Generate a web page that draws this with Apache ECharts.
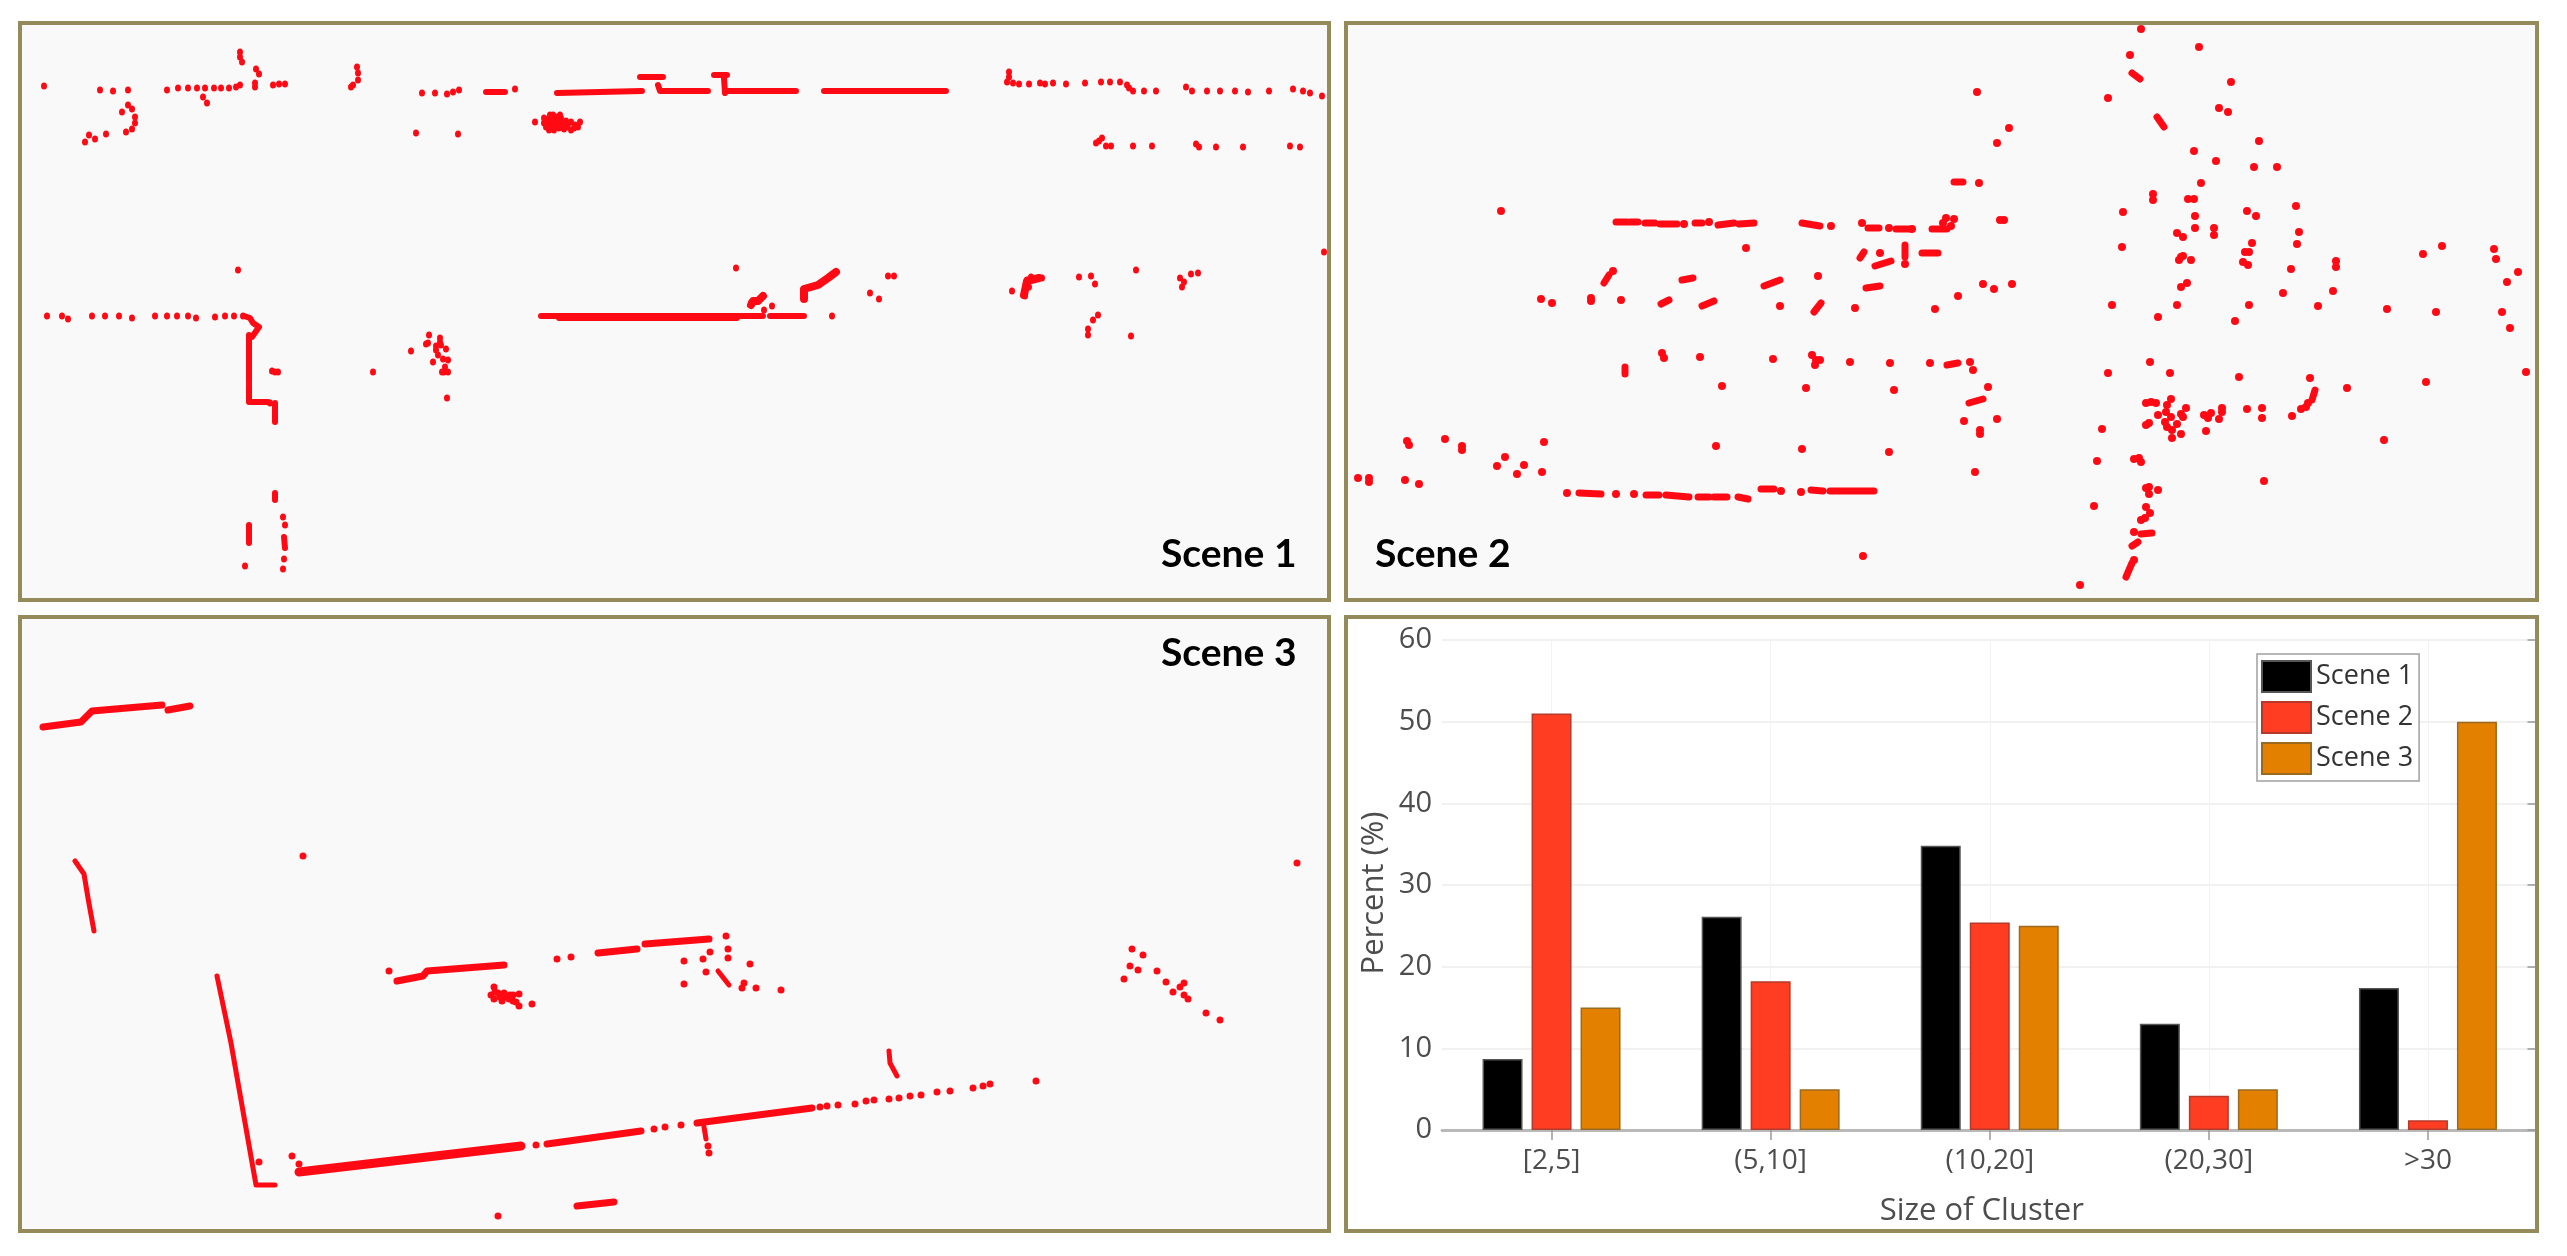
<!DOCTYPE html>
<html><head><meta charset="utf-8">
<style>html,body{margin:0;padding:0;background:#fff}#c{width:2567px;height:1256px}</style>
<script src="https://cdn.jsdelivr.net/npm/echarts@6/dist/echarts.min.js"></script>
</head><body><div id="c"></div>
<script>
// ---- Bar chart values
const categories = ['[2,5]','(5,10]','(10,20]','(20,30]','>30'];
const barScene1 = [8.7, 26.1, 34.8, 13, 17.4];
const barScene2 = [51, 18.2, 25.4, 4.2, 1.2];
const barScene3 = [15, 5, 25, 5, 50];
const percentTicks = {min:0,max:60,interval:10};

// ---- Scene 1 returns (x, y in the scan's own units, y down)
const scene1Points = [[24,63],[80,67],[93,68],[108,67],[147,67],[158,65],[168,65],[177,65],[185,65],[194,65],[201,65],[209,65],[216,64],[220,62],[235,64],[235,60],[253,62],[259,61],[265,61],[220,29],[220,34],[222,39],[236,46],[239,51],[183,74],[187,80],[108,82],[112,86],[102,89],[115,94],[115,100],[112,106],[106,109],[86,111],[75,116],[69,112],[65,119],[337,44],[338,50],[338,57],[333,62],[331,64],[402,70],[415,70],[427,71],[433,69],[439,67],[495,66],[396,110],[438,111],
[515,99],[524,95],[533,92],[541,95],[524,100],[531,99],[537,99],[543,100],[551,99],[560,99],[529,107],[539,105],[551,107],[558,104],[547,104],[535,102],[528,96],[537,94],[546,98],[555,102],[526,104],[534,107],[530,92],[540,92],[528,101],[533,96],[541,101],[548,101],[554,105],[544,106],[530,103],[536,97],
[989,49],[989,54],[987,59],[993,60],[999,61],[1009,61],[1020,60],[1025,61],[1033,60],[1046,61],[1065,60],[1081,59],[1090,59],[1100,59],[1107,62],[1109,65],[1113,68],[1124,68],[1136,68],[1166,64],[1172,68],[1187,68],[1200,68],[1215,68],[1228,69],[1249,68],[1273,66],[1283,68],[1290,70],[1302,73],
[1076,120],[1082,115],[1079,118],[1086,123],[1091,123],[1113,123],[1132,123],[1176,121],[1179,124],[1196,124],[1223,124],[1270,123],[1280,124],
[218,247],[27,293],[42,293],[48,296],[72,293],[85,293],[99,293],[112,295],[135,293],[147,293],[157,293],[168,293],[176,295],[195,294],[205,293],[214,293],[223,293],[250,380],[255,349],[252,348],[258,349],[353,349],[391,328],
[409,312],[408,320],[406,321],[420,319],[421,322],[426,326],[416,327],[418,332],[423,336],[428,337],[413,339],[425,344],[422,349],[428,349],[427,375],[420,315],[416,323],[424,349],
[263,494],[265,502],[264,536],[263,546],[225,543],
[716,245],[731,280],[738,278],[743,273],[744,287],[752,283],[812,293],[850,270],[859,276],[868,253],[874,253],
[992,268],[1004,269],[1009,264],[1007,257],[1011,254],[1022,255],[1005,273],[1059,254],[1071,253],[1075,261],[1116,247],[1160,255],[1164,259],[1162,264],[1171,251],[1178,250],[1078,292],[1073,297],[1068,306],[1068,312],[1111,313],[1304,229]];
const scene1Runs = [
 [[466,69],[485,69]],[[537,70],[622,68]],[[620,54],[643,54]],[[638,62],[640,68],[688,68]],
 [[694,52],[707,52]],[[704,55],[705,70]],[[705,68],[776,68]],[[804,68],[926,68]],
 [[224,293],[230,295],[233,300],[239,304],[232,314],[229,315]],
 [[229,312],[229,360]],[[229,362],[229,379],[248,379]],[[255,380],[255,399]],[[255,470],[255,477]],
 [[229,502],[229,520]],[[264,514],[265,525]],
 [[521,293],[743,293]],[[539,295],[717,295]],[[750,293],[784,293]]];
const scene1ThickRuns = [
 [[784,276],[784,266],[798,262],[808,255],[816,249]],[[731,282],[733,278],[738,278],[743,273]],
 [[1004,272],[1007,258],[1019,255]]];

// ---- Scene 2 returns
const scene2Points = [[155,188],[338,201],[363,199],[485,203],[516,200],[543,205],[400,225],[534,230],[559,241],[267,248],[472,253],[195,276],[206,280],[245,278],[245,275],[275,277],[434,283],[509,285],
[316,330],[318,335],[354,334],[427,336],[466,332],[470,337],[469,342],[474,337],[504,339],[544,340],[376,363],[460,365],[548,367],
[61,418],[63,422],[99,416],[116,423],[116,427],[198,419],[159,434],[151,443],[178,442],[171,451],[196,449],[12,455],[23,455],[23,459],[59,457],[73,461],[221,470],[270,471],[288,471],[435,468],[455,469],[370,423],[456,426],[543,429],[517,533],
[795,6],[853,24],[784,32],[885,59],[762,75],[631,69],[873,85],[882,89],[663,105],[651,120],[913,118],[848,128],[870,138],[908,144],[931,144],[633,160],[855,160],[807,171],[807,177],[842,176],[848,176],[777,189],[849,193],[901,188],[910,193],[950,183],[600,195],[608,196],[654,197],[658,197],[566,206],[597,200],[605,203],[849,205],[868,205],[868,212],[831,210],[837,214],[953,209],[951,221],[906,220],[903,229],[899,229],[776,224],[835,234],[833,237],[837,233],[845,237],[897,239],[902,242],[990,238],[990,244],[1077,231],[1096,223],[1148,226],[1150,236],[945,246],[1172,249],[1161,259],[637,261],[648,266],[666,261],[841,260],[835,264],[937,270],[987,268],[612,273],[589,286],[766,282],[831,282],[903,282],[972,283],[1041,286],[1090,289],[1156,289],[812,294],[889,298],[1164,305],
[584,340],[624,339],[627,347],[642,364],[618,398],[651,396],[634,407],[634,411],[629,449],[762,350],[804,339],[824,350],[893,354],[964,355],[1180,349],[1080,359],[1001,365],[962,380],[955,386],[946,393],[960,384],[1038,417],[918,458],
[805,379],[800,380],[810,380],[825,376],[821,382],[840,385],[812,392],[820,389],[825,394],[835,391],[837,394],[803,400],[800,402],[819,399],[821,404],[831,401],[826,407],[835,411],[826,415],[860,408],[873,396],[858,392],[862,395],[865,390],[876,385],[876,389],[901,386],[916,385],[916,395],
[756,406],[751,438],[793,435],[788,436],[795,439],[803,464],[800,465],[812,467],[803,471],[748,483],[800,484],[804,490],[799,495],[795,497],[788,509],[788,537],[734,562]];
const scene2Runs = [
 [[270,199],[281,199]],[[284,199],[292,199]],[[299,200],[309,200]],[[314,201],[331,201]],[[349,200],[356,200]],[[372,202],[388,200]],[[393,201],[408,200]],
 [[456,200],[474,203]],[[522,205],[533,205]],[[550,206],[564,206]],[[514,235],[518,229]],[[559,222],[559,234]],[[529,243],[545,238]],[[258,260],[263,252]],[[336,257],[347,255]],[[418,263],[434,257]],[[520,265],[534,263]],[[315,281],[323,277]],[[356,283],[368,278]],[[468,289],[475,280]],[[279,344],[279,351]],
 [[233,470],[255,471]],[[300,472],[313,472]],[[320,472],[343,474]],[[352,474],[363,474]],[[368,474],[381,474]],[[392,474],[402,476]],[[415,466],[428,466]],[[465,467],[477,468]],[[484,468],[528,468]],
 [[786,50],[794,56]],[[811,94],[818,104]],[[608,159],[617,159]],[[586,206],[601,206]],[[576,230],[592,230]],
 [[601,342],[612,340]],[[623,380],[637,376]],[[969,367],[966,377]],[[795,511],[806,510]],[[786,523],[792,519]],[[786,540],[780,554]]];

// ---- Scene 3 returns
const scene3Points = [[283,239],[239,545],[272,539],[279,547],[516,528],[634,512],[645,510],[661,508],[800,490],[807,489],[818,488],[835,487],[846,484],[854,483],[869,482],[879,481],[890,479],[901,478],[917,475],[930,474],[953,471],[963,469],[970,467],[1016,464],[688,529],[689,536],[478,599],[369,354],[537,342],[551,340],[706,319],
[474,370],[471,378],[480,380],[489,382],[484,376],[493,384],[499,377],[499,389],[512,387],[474,382],[493,378],[478,376],[486,380],[482,384],[490,378],[475,375],[496,385],
[690,335],[708,332],[708,341],[683,342],[664,344],[730,347],[686,355],[664,367],[724,366],[736,371],[722,371],[761,373],
[1112,332],[1123,338],[1110,349],[1118,353],[1137,354],[1104,362],[1146,365],[1164,366],[1160,370],[1153,375],[1164,378],[1168,382],[1186,396],[1200,403],[1277,246]];
const scene3Runs = [
 [[23,110],[61,105],[72,94],[142,88]],[[148,93],[170,89]],
 [[377,364],[403,359],[407,354],[484,348]],[[578,336],[617,332]],[[625,327],[689,322]],
 [[527,527],[621,514]],[[677,506],[792,491]],[[557,589],[594,585]]];
const scene3ThickRuns = [[[279,555],[501,529]]];
const scene3ThinRuns = [
 [[55,244],[64,257],[68,281],[74,314]],[[197,359],[211,426],[236,568]],[[236,568],[255,568]],
 [[684,510],[686,522]],[[869,434],[870,446],[877,459]],[[698,354],[709,368]]];

// ---- Panel labels
const sceneNames = ['Scene 1','Scene 2','Scene 3'];

const RED = '#ff0a14', FRAME = '#958b5a', PANEL = '#f9f9f9';
const panels = [
 {left:20,  top:23,  width:1309, height:577},
 {left:1346,top:23,  width:1191, height:577},
 {left:20,  top:617, width:1309, height:614},
 {left:1346,top:617, width:1191, height:614}
];
const plot = {left:1442, top:640, width:1095.5, height:490};

function flatten(runs){
  const out=[];
  runs.forEach(r=>{ r.forEach(p=>out.push(p)); out.push(['-','-']); });
  return out;
}
function runSeries(i,runs,w){
  return {type:'line',xAxisIndex:i,yAxisIndex:i,data:flatten(runs),showSymbol:false,silent:true,
    connectNulls:false,lineStyle:{color:RED,width:w,cap:'round',join:'round'},animation:false,z:3};
}
function dotSeries(i,pts,size){
  return {type:'scatter',xAxisIndex:i,yAxisIndex:i,data:pts,symbol:'circle',symbolSize:size,silent:true,
    itemStyle:{color:RED,opacity:1},animation:false,z:3};
}
function hiddenX(i){return {type:'value',gridIndex:i,min:0,max:panels[i].width,show:false};}
function hiddenY(i){return {type:'value',gridIndex:i,min:0,max:panels[i].height,inverse:true,show:false};}

const labelFont = '"Open Sans", sans-serif';
const bar = (name,data,color,border)=>({type:'bar',name,data,xAxisIndex:3,yAxisIndex:3,barWidth:40,barGap:'22.5%',
  itemStyle:{color,borderColor:border,borderWidth:1.5},animation:false,z:2});
const sceneTitle=(t,left,top)=>({text:t,left,top,textStyle:{fontFamily:'Lato, sans-serif',fontWeight:'bold',fontSize:39,color:'#000'},padding:0});

const option = {
  backgroundColor:'#fff',
  animation:false,
  title:[sceneTitle(sceneNames[0],1161,535),sceneTitle(sceneNames[1],1375,535),sceneTitle(sceneNames[2],1161,634)],
  grid:[
    ...panels.slice(0,3).map(p=>({...p,show:true,backgroundColor:PANEL,borderWidth:0})),
    {...plot,show:false}
  ],
  xAxis:[hiddenX(0),hiddenX(1),hiddenX(2),
    {type:'category',gridIndex:3,data:categories,position:'bottom',
     axisLine:{show:true,lineStyle:{color:'#b0b0b0',width:2.5}},
     axisTick:{show:false,alignWithLabel:true},
     splitLine:{show:true,alignWithLabel:true,lineStyle:{color:'#f3f3f3',width:1}},
     axisLabel:{fontFamily:labelFont,fontSize:28,color:'#4d4d4d',margin:17},
     name:'Size of Cluster',nameLocation:'middle',nameGap:66,
     nameTextStyle:{fontFamily:labelFont,fontSize:31,color:'#4d4d4d',padding:[0,16,0,0]}},
    {type:'category',gridIndex:3,data:categories,position:'top',
     axisLine:{show:true,lineStyle:{color:'#b8b8b8',width:2.5}},
     axisTick:{show:true,alignWithLabel:true,inside:true,length:10,lineStyle:{color:'#999',width:1.5}},
     axisLabel:{show:false},splitLine:{show:false}}
  ],
  yAxis:[hiddenY(0),hiddenY(1),hiddenY(2),
    {type:'value',gridIndex:3,...percentTicks,position:'left',
     axisLine:{show:false},axisTick:{show:false},
     splitLine:{show:true,lineStyle:{color:'#f1f1f1',width:2}},
     axisLabel:{fontFamily:labelFont,fontSize:29,color:'#4d4d4d',margin:10},
     name:'Percent (%)',nameLocation:'middle',nameGap:52,nameRotate:90,
     nameTextStyle:{fontFamily:labelFont,fontSize:31,color:'#4d4d4d',padding:[0,16,0,0]}},
    {type:'value',gridIndex:3,...percentTicks,position:'right',
     axisLine:{show:false},
     axisTick:{show:true,inside:true,length:10,lineStyle:{color:'#999',width:1.5}},
     axisLabel:{show:false},splitLine:{show:false}}
  ],
  legend:{left:2257,top:654,orient:'vertical',padding:[6,6,6,4],itemWidth:49,itemHeight:31,itemGap:8,
    data:sceneNames,icon:'rect',backgroundColor:'#fff',borderColor:'#a0a0a0',borderWidth:1.5,
    textStyle:{fontFamily:labelFont,fontSize:27,color:'#333'}},
  series:[
    dotSeries(0,scene1Points,[6,7]),
    runSeries(0,scene1Runs,6),
    runSeries(0,scene1ThickRuns,8),
    dotSeries(1,scene2Points,8),
    runSeries(1,scene2Runs,7),
    dotSeries(2,scene3Points,7),
    runSeries(2,scene3Runs,7),
    runSeries(2,scene3ThickRuns,9),
    runSeries(2,scene3ThinRuns,5),
    bar(sceneNames[0],barScene1,'#000000','#555555'),
    bar(sceneNames[1],barScene2,'#ff3d22','#b53a2a'),
    bar(sceneNames[2],barScene3,'#e48000','#9a6a20')
  ],
  graphic:panels.map(p=>({type:'rect',shape:{x:p.left,y:p.top,width:p.width,height:p.height},
    style:{fill:'transparent',stroke:FRAME,lineWidth:4},silent:true,z:100}))
};
const chart = echarts.init(document.getElementById('c'),null,{renderer:'canvas'});
chart.setOption(option);
</script></body></html>
